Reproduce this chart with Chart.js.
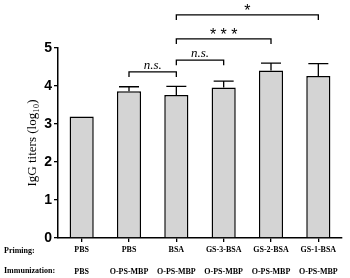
<!DOCTYPE html>
<html lang="en">
<head>
  <meta charset="UTF-8">
  <title>IgG titers</title>
  <script src="https://cdn.jsdelivr.net/npm/chart.js"></script>
  <style>
    body { margin: 0; background: #fff; }
    #wrap { width: 350px; height: 278px; }
  </style>
</head>
<body>
  <div id="wrap"><canvas id="graphic"></canvas></div>

  <script>
    // data
    const priming = ['PBS', 'PBS', 'BSA', 'GS-3-BSA', 'GS-2-BSA', 'GS-1-BSA'];
    const immunization = ['PBS', 'O-PS-MBP', 'O-PS-MBP', 'O-PS-MBP', 'O-PS-MBP', 'O-PS-MBP'];
    const titers = [3.2, 3.86, 3.76, 3.96, 4.41, 4.26];
    const errors = [0, 0.12, 0.23, 0.17, 0.19, 0.33];
    const yTicks = [0, 1, 2, 3, 4, 5];
    // significance brackets: [from bar, to bar, height (log10), label]
    const brackets = [
      [1, 2, 4.37, 'n.s.'],
      [2, 3, 4.68, 'n.s.'],
      [2, 4, 5.24, '***'],
      [2, 5, 5.87, '*']
    ];

    const labelFont = { family: "'Liberation Serif', 'Times New Roman', serif", size: 8, weight: 'bold' };

    const extras = {
      id: 'extras',
      afterDatasetsDraw(chart) {
        const ctx = chart.ctx;
        const x = chart.scales.x;
        const y = chart.scales.y;
        ctx.save();
        ctx.strokeStyle = '#000';
        ctx.lineWidth = 1.3;

        // error bars (upper only)
        titers.forEach((v, i) => {
          if (!errors[i]) return;
          const cx = x.getPixelForValue(i);
          const top = y.getPixelForValue(v + errors[i]);
          const base = y.getPixelForValue(v);
          ctx.beginPath();
          ctx.moveTo(cx, base);
          ctx.lineTo(cx, top);
          ctx.moveTo(cx - 10, top);
          ctx.lineTo(cx + 10, top);
          ctx.stroke();
        });

        // brackets
        brackets.forEach(b => {
          const x1 = x.getPixelForValue(b[0]);
          const x2 = x.getPixelForValue(b[1]);
          const by = y.getPixelForValue(b[2]);
          ctx.beginPath();
          ctx.moveTo(x1, by + 5);
          ctx.lineTo(x1, by);
          ctx.lineTo(x2, by);
          ctx.lineTo(x2, by + 5);
          ctx.stroke();
          ctx.fillStyle = '#000';
          ctx.textAlign = 'center';
          ctx.textBaseline = 'alphabetic';
          if (b[3] === 'n.s.') {
            ctx.font = "italic 13px 'Liberation Serif'";
            ctx.fillText(b[3], (x1 + x2) / 2, by - 3);
          } else {
            ctx.font = "16px 'Liberation Sans'";
            ctx.fillText(b[3].split('').join(' '), (x1 + x2) / 2, by + 1);
          }
        });

        // row captions
        ctx.font = "bold 8px 'Liberation Serif'";
        ctx.textAlign = 'left';
        ctx.textBaseline = 'middle';
        ctx.fillText('Priming:', 4, 251);
        ctx.fillText('Immunization:', 4, 271);
        ctx.restore();
      }
    };

    new Chart(document.getElementById('graphic'), {
      type: 'bar',
      data: {
        labels: priming,
        datasets: [{
          data: titers,
          backgroundColor: '#d4d4d4',
          borderColor: '#000',
          borderWidth: 1.5,
          categoryPercentage: 1,
          barPercentage: 0.51
        }]
      },
      options: {
        responsive: true,
        maintainAspectRatio: false,
        animation: false,
        layout: { padding: { top: 48, right: 8, left: 0, bottom: 0 } },
        plugins: { legend: { display: false }, tooltip: { enabled: false } },
        scales: {
          x: {
            weight: 0,
            afterFit: s => { s.height = 18; },
            grid: { display: true, drawOnChartArea: false, offset: false, tickLength: 4, color: '#000', lineWidth: 1.3 },
            border: { color: '#000', width: 1.5 },
            ticks: { color: '#000', padding: 3, maxRotation: 0, autoSkip: false, font: labelFont }
          },
          x2: {
            type: 'category',
            position: 'bottom',
            weight: 1,
            labels: immunization,
            offset: true,
            afterFit: s => { s.height = 22; },
            grid: { display: false },
            border: { display: false },
            ticks: { color: '#000', padding: 3, maxRotation: 0, autoSkip: false, font: labelFont }
          },
          y: {
            min: 0,
            max: 5,
            afterFit: s => { s.width = 58; },
            afterBuildTicks: s => { s.ticks = yTicks.map(v => ({ value: v })); },
            grid: { display: true, drawOnChartArea: false, tickLength: 4, color: '#000', lineWidth: 1.3 },
            border: { color: '#000', width: 1.5 },
            ticks: {
              color: '#000',
              padding: 2,
              font: { family: "'Liberation Sans', Arial, sans-serif", size: 14, weight: 'bold' }
            },
            title: {
              display: true,
              text: 'IgG titers (log\u2081\u2080)',
              color: '#000',
              padding: { top: 25, bottom: 0 },
              font: { family: "'Liberation Serif', 'Times New Roman', serif", size: 13 }
            }
          }
        }
      },
      plugins: [extras]
    });
  </script>
</body>
</html>
